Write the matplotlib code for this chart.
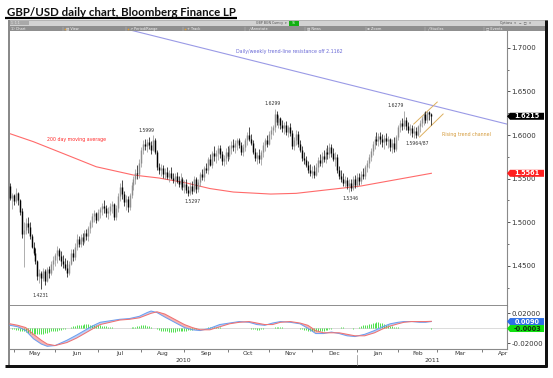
import matplotlib
matplotlib.use("Agg")
import matplotlib.pyplot as plt
import matplotlib.transforms as mtransforms
from matplotlib.patches import Polygon, Rectangle
import numpy as np
import pandas as pd

# ---- GBP/USD daily bars (first bar = 29 Apr 2010) ----
opens = [
    1.542, 1.528, 1.531, 1.524, 1.534, 1.526, 1.513, 1.486, 1.491, 1.499, 1.494, 1.484,
    1.472, 1.465, 1.455, 1.438, 1.442, 1.436, 1.444, 1.433, 1.446, 1.442, 1.452, 1.457,
    1.462, 1.468, 1.461, 1.456, 1.452, 1.448, 1.442, 1.452, 1.465, 1.460, 1.472, 1.481,
    1.475, 1.483, 1.478, 1.488, 1.484, 1.493, 1.500, 1.507, 1.510, 1.503, 1.512, 1.515,
    1.519, 1.516, 1.510, 1.513, 1.519, 1.521, 1.506, 1.516, 1.530, 1.540, 1.532, 1.523,
    1.527, 1.517, 1.531, 1.543, 1.549, 1.557, 1.555, 1.568, 1.583, 1.590, 1.587, 1.592,
    1.589, 1.583, 1.594, 1.581, 1.563, 1.560, 1.562, 1.555, 1.558, 1.552, 1.557, 1.551,
    1.548, 1.553, 1.547, 1.544, 1.550, 1.540, 1.544, 1.537, 1.534, 1.542, 1.536, 1.549,
    1.538, 1.546, 1.555, 1.552, 1.562, 1.560, 1.572, 1.566, 1.579, 1.576, 1.579, 1.585,
    1.578, 1.570, 1.574, 1.581, 1.576, 1.585, 1.589, 1.586, 1.591, 1.594, 1.588, 1.580,
    1.586, 1.594, 1.600, 1.596, 1.591, 1.580, 1.574, 1.577, 1.572, 1.580, 1.588, 1.594,
    1.590, 1.601, 1.606, 1.609, 1.624, 1.615, 1.619, 1.611, 1.608, 1.612, 1.604, 1.609,
    1.602, 1.587, 1.594, 1.601, 1.590, 1.583, 1.574, 1.571, 1.566, 1.560, 1.556, 1.559,
    1.554, 1.563, 1.571, 1.568, 1.576, 1.572, 1.581, 1.578, 1.586, 1.579, 1.573, 1.575,
    1.560, 1.553, 1.550, 1.545, 1.548, 1.541, 1.545, 1.539, 1.549, 1.543, 1.552, 1.547,
    1.555, 1.553, 1.563, 1.568, 1.575, 1.582, 1.590, 1.596, 1.593, 1.599, 1.596, 1.592,
    1.597, 1.593, 1.595, 1.586, 1.591, 1.584, 1.598, 1.609, 1.614, 1.610, 1.617, 1.610,
    1.606, 1.608, 1.602, 1.605, 1.600, 1.610, 1.614, 1.619, 1.624, 1.617, 1.626, 1.624,
]
highs = [
    1.545, 1.533, 1.532, 1.539, 1.535, 1.527, 1.516, 1.500, 1.505, 1.506, 1.500, 1.486,
    1.477, 1.470, 1.457, 1.446, 1.444, 1.447, 1.446, 1.449, 1.450, 1.455, 1.461, 1.465,
    1.473, 1.470, 1.467, 1.462, 1.459, 1.457, 1.455, 1.469, 1.469, 1.476, 1.486, 1.484,
    1.487, 1.488, 1.491, 1.492, 1.496, 1.503, 1.510, 1.514, 1.512, 1.515, 1.518, 1.522,
    1.525, 1.520, 1.518, 1.522, 1.524, 1.522, 1.520, 1.534, 1.545, 1.548, 1.536, 1.531,
    1.530, 1.534, 1.546, 1.553, 1.561, 1.566, 1.572, 1.586, 1.594, 1.596, 1.595, 1.598,
    1.593, 1.5999, 1.597, 1.583, 1.568, 1.567, 1.566, 1.562, 1.563, 1.560, 1.563, 1.556,
    1.557, 1.558, 1.553, 1.556, 1.552, 1.548, 1.549, 1.541, 1.546, 1.547, 1.553, 1.552,
    1.550, 1.558, 1.561, 1.565, 1.568, 1.575, 1.578, 1.582, 1.587, 1.583, 1.588, 1.589,
    1.582, 1.577, 1.585, 1.587, 1.589, 1.593, 1.595, 1.594, 1.597, 1.597, 1.592, 1.590,
    1.597, 1.604, 1.609, 1.601, 1.594, 1.585, 1.581, 1.584, 1.583, 1.592, 1.597, 1.600,
    1.605, 1.610, 1.612, 1.6299, 1.628, 1.623, 1.621, 1.617, 1.615, 1.616, 1.612, 1.614,
    1.606, 1.598, 1.606, 1.605, 1.594, 1.587, 1.580, 1.576, 1.570, 1.567, 1.564, 1.566,
    1.568, 1.575, 1.578, 1.580, 1.583, 1.585, 1.588, 1.591, 1.590, 1.585, 1.580, 1.578,
    1.565, 1.560, 1.556, 1.553, 1.552, 1.549, 1.550, 1.553, 1.554, 1.556, 1.557, 1.559,
    1.562, 1.566, 1.571, 1.578, 1.585, 1.593, 1.599, 1.603, 1.602, 1.604, 1.601, 1.600,
    1.602, 1.599, 1.597, 1.595, 1.598, 1.600, 1.612, 1.617, 1.620, 1.6279, 1.621, 1.615,
    1.613, 1.612, 1.610, 1.609, 1.612, 1.617, 1.622, 1.626, 1.627, 1.628, 1.627, 1.625,
]
lows = [
    1.525, 1.515, 1.520, 1.522, 1.520, 1.508, 1.482, 1.449, 1.486, 1.488, 1.481, 1.470,
    1.462, 1.452, 1.434, 1.430, 1.4231, 1.432, 1.428, 1.431, 1.436, 1.440, 1.445, 1.450,
    1.453, 1.457, 1.450, 1.448, 1.445, 1.437, 1.440, 1.451, 1.455, 1.457, 1.468, 1.471,
    1.472, 1.474, 1.476, 1.480, 1.479, 1.488, 1.494, 1.500, 1.499, 1.501, 1.505, 1.508,
    1.510, 1.506, 1.504, 1.508, 1.511, 1.503, 1.503, 1.512, 1.524, 1.527, 1.519, 1.514,
    1.512, 1.514, 1.528, 1.537, 1.544, 1.550, 1.551, 1.563, 1.578, 1.583, 1.581, 1.584,
    1.578, 1.582, 1.578, 1.560, 1.555, 1.553, 1.551, 1.549, 1.550, 1.546, 1.549, 1.545,
    1.542, 1.545, 1.540, 1.538, 1.537, 1.533, 1.534, 1.5297, 1.531, 1.532, 1.535, 1.533,
    1.535, 1.541, 1.548, 1.547, 1.556, 1.555, 1.564, 1.562, 1.570, 1.568, 1.571, 1.574,
    1.566, 1.564, 1.567, 1.570, 1.572, 1.578, 1.582, 1.579, 1.583, 1.585, 1.577, 1.576,
    1.582, 1.588, 1.593, 1.588, 1.578, 1.570, 1.567, 1.568, 1.566, 1.575, 1.582, 1.586,
    1.588, 1.596, 1.600, 1.604, 1.612, 1.608, 1.607, 1.603, 1.601, 1.600, 1.598, 1.599,
    1.584, 1.583, 1.588, 1.586, 1.580, 1.570, 1.567, 1.563, 1.556, 1.553, 1.551, 1.551,
    1.553, 1.558, 1.564, 1.563, 1.569, 1.568, 1.573, 1.574, 1.575, 1.570, 1.565, 1.557,
    1.550, 1.546, 1.542, 1.540, 1.538, 1.5346, 1.536, 1.537, 1.539, 1.540, 1.543, 1.544,
    1.549, 1.550, 1.558, 1.562, 1.570, 1.577, 1.584, 1.588, 1.587, 1.590, 1.586, 1.584,
    1.588, 1.585, 1.582, 1.579, 1.580, 1.582, 1.594, 1.603, 1.606, 1.607, 1.606, 1.602,
    1.600, 1.598, 1.597, 1.5964, 1.5987, 1.604, 1.609, 1.612, 1.614, 1.614, 1.617, 1.611,
]
closes = [
    1.528, 1.531, 1.524, 1.534, 1.526, 1.512, 1.486, 1.491, 1.499, 1.494, 1.484, 1.472,
    1.465, 1.455, 1.438, 1.442, 1.436, 1.444, 1.433, 1.446, 1.442, 1.452, 1.457, 1.462,
    1.468, 1.461, 1.456, 1.452, 1.448, 1.442, 1.452, 1.465, 1.460, 1.472, 1.481, 1.475,
    1.483, 1.478, 1.488, 1.484, 1.493, 1.500, 1.507, 1.510, 1.503, 1.512, 1.515, 1.519,
    1.516, 1.510, 1.513, 1.519, 1.521, 1.506, 1.516, 1.530, 1.540, 1.532, 1.523, 1.527,
    1.517, 1.531, 1.543, 1.549, 1.557, 1.555, 1.568, 1.583, 1.590, 1.587, 1.592, 1.589,
    1.583, 1.594, 1.581, 1.563, 1.560, 1.562, 1.555, 1.558, 1.552, 1.557, 1.551, 1.548,
    1.553, 1.547, 1.544, 1.550, 1.540, 1.544, 1.537, 1.534, 1.542, 1.536, 1.549, 1.538,
    1.546, 1.555, 1.552, 1.562, 1.560, 1.572, 1.566, 1.579, 1.576, 1.579, 1.585, 1.578,
    1.570, 1.574, 1.581, 1.576, 1.585, 1.589, 1.586, 1.591, 1.594, 1.588, 1.580, 1.586,
    1.594, 1.600, 1.596, 1.591, 1.580, 1.574, 1.577, 1.572, 1.580, 1.588, 1.594, 1.590,
    1.601, 1.606, 1.609, 1.624, 1.615, 1.619, 1.611, 1.608, 1.612, 1.604, 1.609, 1.602,
    1.587, 1.594, 1.601, 1.590, 1.583, 1.574, 1.571, 1.566, 1.560, 1.556, 1.559, 1.554,
    1.563, 1.571, 1.568, 1.576, 1.572, 1.581, 1.578, 1.586, 1.579, 1.573, 1.575, 1.560,
    1.553, 1.550, 1.545, 1.548, 1.541, 1.545, 1.539, 1.549, 1.543, 1.552, 1.547, 1.555,
    1.553, 1.563, 1.568, 1.575, 1.582, 1.590, 1.596, 1.593, 1.599, 1.596, 1.592, 1.597,
    1.593, 1.595, 1.586, 1.591, 1.584, 1.598, 1.609, 1.614, 1.610, 1.617, 1.610, 1.606,
    1.608, 1.602, 1.605, 1.600, 1.610, 1.614, 1.619, 1.624, 1.617, 1.626, 1.624, 1.6215,
]

# 200 day moving average, read at a few bars
ma_bars = [-0.5, 12, 29, 44, 63, 76, 90, 102, 114, 133, 146, 164, 179, 196, 215]
ma_vals = [1.6019, 1.5923, 1.5771, 1.5636, 1.5541, 1.5507, 1.5450, 1.5386,
           1.5346, 1.5323, 1.5331, 1.5377, 1.5415, 1.5484, 1.5561]

# long term resistance (off 2.1162) and the rising channel
trend_bars = [40, 254]
trend_vals = [1.7324, 1.6123]
chan_hi_bars = [206, 218]
chan_hi_vals = [1.6126, 1.6378]
chan_lo_bars = [209, 221]
chan_lo_vals = [1.5977, 1.6241]

# MACD panel, in thousandths
macd_bars = [0, 4, 8, 12, 16, 19, 23, 29, 34, 38, 42, 46, 51, 56, 61, 66, 70, 72, 75,
             79, 84, 89, 93, 97, 102, 107, 112, 117, 122, 126, 130, 134, 138, 143,
             148, 152, 156, 160, 164, 168, 172, 176, 181, 186, 190, 194, 198, 201,
             205, 209, 212, 215]
macd_line = [4, 2, -3, -14, -21, -24, -23, -16, -9, -3, 3, 8, 10, 12, 13, 16, 21, 23, 21,
             15, 8, 1, -2, -3, 0, 5, 7, 9, 8, 5, 4, 7, 9, 8,
             6, 0, -7, -7, -5, -7, -10, -11, -8, -3, 2, 6, 8, 9,
             9, 8, 8, 9]
signal_line = [6, 4, 1, -8, -16, -21, -23, -19, -13, -7, -1, 5, 8, 11, 12, 14, 18, 20, 22,
               19, 12, 5, 1, -2, -2, 2, 6, 8, 9, 7, 5, 5, 8, 9,
               7, 4, -3, -6, -6, -6, -8, -10, -10, -6, -1, 3, 6, 8,
               9, 9, 9, 9.3]
hist_milli = [
    0, -1, -1, -2, -2, -3, -3, -4,
    -5, -6, -6, -7, -7, -8, -8, -7, -7, -7, -6, -6, -5,
    -4, -4, -3, -3, -2, -2, -1, -1, 0, 1,
    2, 3, 3, 4, 4, 5, 5, 6, 6, 6, 5, 5, 5, 4, 4, 4, 3, 3, 3, 2,
    2, 2, 1, 1, 1, 1, 0, 0, 1, 1, 1, 2, 2,
    2, 3, 3, 4, 4, 4, 3, 3, 2, 1,
    0, -1, -2, -3, -3, -4, -4, -5, -5, -5, -5, -4, -4, -4, -3, -3, -3, -2, -2, -2, -1, -1,
    0, 0, 1, 1, 1, 2, 2, 2, 2, 2, 2, 2, 1, 1, 1, 1, 1, 1, 1, 1, 1, 0, 0, 0, 0,
    0, 0, -1, -1, -1, -2, -2, -1, -1, 0, 0, 1, 1, 1, 2,
    2, 2, 2, 2, 1, 1, 1, 1, 1, 1, 0, 0, -1, -1, -2,
    -2, -3, -3, -4, -4, -4, -4, -3, -3, -3, -2, -2, -1, -1, 0,
    1, 1, 1, 2, 2, 1, 1, 0, 0, -1,
    0, 1, 2, 3, 4, 5, 5, 6, 6, 7, 7, 8, 8, 7, 7, 6, 5, 4, 3, 3,
    2, 2, 2, 1, 1, 1, 1, 0, 0, 0, 1, 1, 1, 0, 0, 0, 0, 0, 0, -0.3,
]

# labelled turning points: bar, which end, text, label offset in px
peak_labels = [
    (73, "high", "1.5999", -7, 5),
    (16, "low", "1.4231", -1, -6),
    (91, "low", "1.5297", 4, -5),
    (135, "high", "1.6299", -2, 5),
    (173, "low", "1.5346", 1, -6),
    (201, "high", "1.6279", -8, 5),
    (207, "low", "1.5964/87", 2, -5),
]

price_ticks = [1.45, 1.50, 1.55, 1.60, 1.65, 1.70]
price_minor = [1.425, 1.475, 1.525, 1.575, 1.625, 1.675]
month_names = ["May", "Jun", "Jul", "Aug", "Sep", "Oct",
               "Nov", "Dec", "Jan", "Feb", "Mar", "Apr"]

W, H = 553, 378
fig = plt.figure(figsize=(W / 100, H / 100), dpi=100)
PT = 0.72  # points per pixel


def frac(x0, y0, x1, y1):
    # pixel box (top-left origin) -> figure fraction rect
    return [x0 / W, 1 - y1 / H, (x1 - x0) / W, (y1 - y0) / H]


# ---- frame, title and the Bloomberg toolbar (pixel coords) ----
deco = fig.add_axes([0, 0, 1, 1])
deco.set_xlim(0, W)
deco.set_ylim(H, 0)
deco.axis("off")

title = deco.text(7, 16, "GBP/USD daily chart, Bloomberg Finance LP", family="Lato",
                  weight="bold", fontsize=9, va="baseline", ha="left", color="#111111")
fig.canvas.draw()
tw = title.get_window_extent(fig.canvas.get_renderer()).width
title.set_fontsize(9 * 228 / tw)
deco.plot([5, 237], [18, 18], color="black", lw=2.2 * PT, solid_capstyle="butt")

deco.add_patch(Rectangle((8, 20), 539, 6, facecolor="#d2d2d2", edgecolor="#8c8c8c", lw=0.4))
deco.add_patch(Rectangle((9, 20.6), 20, 4.8, facecolor="#a9a9a9", lw=0))
deco.add_patch(Rectangle((8, 26), 539, 5.2, facecolor="#8f8f8f", lw=0))
deco.text(11, 23.2, "1  1 1", fontsize=2.2, color="#f0f0f0", va="center")
deco.text(287, 23.2, "GBP BGN Curncy  \u25be", fontsize=2.3, color="#505050", va="center", ha="right")
deco.add_patch(Rectangle((289, 20.5), 10, 5, facecolor="#12b012", lw=0))
deco.text(294, 23.1, "96", fontsize=2.2, color="white", va="center", ha="center")
deco.text(500, 23.2, "Options  \u25be   \u2212  \u25a1  \u00d7", fontsize=2.3,
          color="#505050", va="center")
menu = [(11, "1) Chart"), (66, "\u25a4 View"), (130, "\u2197 Period/Range"),
        (187, "+ Track"), (248, "\u2571 Annotate"), (307, "\u25a4 News"),
        (367, "\u2295 Zoom"), (427, "\u2571 Studies"), (486, "\u25a1 Events")]
for mx, name in menu:
    deco.text(mx, 28.7, name, fontsize=2.5, color="#f4f4f4", va="center")
for sx in [63, 126, 183, 245, 305, 366, 425, 484]:
    deco.plot([sx, sx], [26.6, 30.6], color="#c4c4c4", lw=0.3)
for ox in [64.5, 127.5, 184.5]:
    deco.plot([ox], [28.6], marker="s", ms=1.0, color="#f0a020", mew=0)

deco.plot([8.5, 8.5], [20, 366], color="#8a8a8a", lw=2 * PT, solid_capstyle="butt")
deco.plot([545.5, 545.5], [20, 367], color="#111111", lw=3 * PT, solid_capstyle="butt")
deco.plot([5, 547], [365.5, 365.5], color="#111111", lw=3 * PT, solid_capstyle="butt")

# ---- price panel ----
ax = fig.add_axes(frac(9, 31, 507, 305.5))
x = np.arange(len(closes))
o, h, l, c = (np.array(v) for v in (opens, highs, lows, closes))
colors = np.where(c >= o, "#8e8e8e", "#000000")
ax.vlines(x, l, h, colors=colors, lw=0.5, zorder=3)
lo_b = np.minimum(o, c)
hi_b = np.maximum(np.maximum(o, c), lo_b + 0.0007)
ax.vlines(x, lo_b, hi_b, colors=colors, lw=1.05, zorder=3)

ax.plot(ma_bars, ma_vals, color="#ff6a6a", lw=0.8, zorder=2)
ax.plot(trend_bars, trend_vals, color="#9a9ae6", lw=0.8, zorder=2)
ax.plot(chan_hi_bars, chan_hi_vals, color="#ddb060", lw=0.7, zorder=2)
ax.plot(chan_lo_bars, chan_lo_vals, color="#ddb060", lw=0.7, zorder=2)

for bar, end, text, dx, dy in peak_labels:
    val = highs[bar] if end == "high" else lows[bar]
    ax.annotate(text, xy=(bar, val), xytext=(dx * PT, dy * PT), textcoords="offset points",
                ha="center", va="center", fontsize=3.3, color="#333333", zorder=4)

ax.text(34, 1.5943, "200 day moving average", fontsize=3.4, color="#ff2a2a",
        ha="center", va="center")
ax.text(115.3, 1.6958, "Daily/weekly trend-line resistance off 2.1162", fontsize=3.4,
        color="#6a6ad6", ha="left", va="center")
ax.text(220.4, 1.6011, "Rising trend channel", fontsize=3.4, color="#d49a3a",
        ha="left", va="center")

ax.set_xlim(-0.51, 253.6)
ax.set_ylim(1.40447, 1.7193)
ax.set_xticks([])
ax.yaxis.tick_right()
ax.set_yticks(price_ticks)
ax.set_yticklabels([f"{v:.4f}" for v in price_ticks])
ax.set_yticks(price_minor, minor=True)
ax.tick_params(axis="y", which="both", direction="out", color="#555555",
               labelcolor="#333333", labelsize=5, pad=0.8)
ax.tick_params(axis="y", which="major", length=2.4, width=0.7)
ax.tick_params(axis="y", which="minor", length=1.5, width=0.6)
ax.spines["top"].set_visible(False)
ax.spines["left"].set_color("#8a8a8a")
ax.spines["left"].set_linewidth(2 * PT)
ax.spines["right"].set_color("#8a8a8a")
ax.spines["right"].set_linewidth(0.8)
ax.spines["bottom"].set_color("#7a7a7a")
ax.spines["bottom"].set_linewidth(1.2)


def side_tag(axis, value, text, face, fg, px_h=7.0):
    # flag on the right axis, pointed towards the axis line
    trans = mtransforms.blended_transform_factory(axis.transAxes, axis.transData)
    y0, y1 = axis.get_ylim()
    bbox = axis.get_window_extent()
    half = px_h / 2 * (y1 - y0) / bbox.height
    ux = 1.0 / bbox.width
    pts = [(1.0, value), (1 + 3 * ux, value + half), (1 + 37 * ux, value + half),
           (1 + 37 * ux, value - half), (1 + 3 * ux, value - half)]
    axis.add_patch(Polygon(pts, closed=True, transform=trans, facecolor=face,
                           edgecolor="none", clip_on=False, zorder=6))
    axis.text(1 + 20 * ux, value, text, transform=trans, ha="center", va="center",
              fontsize=4.7, color=fg, weight="bold", clip_on=False, zorder=7)


side_tag(ax, closes[-1], f"{closes[-1]:.4f}", "#000000", "white")
side_tag(ax, ma_vals[-1], f"{ma_vals[-1]:.4f}", "#ff1e1e", "white")

# ---- MACD panel ----
ax2 = fig.add_axes(frac(9, 305.5, 507, 349.3))
mb = np.array(macd_bars)
mv = np.array(macd_line) / 1000
sv = np.array(signal_line) / 1000
hv = np.array(hist_milli) / 1000
ax2.axhline(0, color="#d6d6d6", lw=0.6, zorder=0)
ax2.fill_between(mb, mv, sv, where=mv >= sv, interpolate=True, color="#bdd2f6", lw=0, zorder=1)
ax2.fill_between(mb, mv, sv, where=mv < sv, interpolate=True, color="#f6b4b4", lw=0, zorder=1)
ax2.vlines(np.arange(len(hv)), 0, hv, colors="#2fdc2f", lw=0.6, zorder=2)
ax2.plot(mb, mv, color="#6e9ff0", lw=0.75, zorder=3)
ax2.plot(mb, sv, color="#f07272", lw=0.75, zorder=3)

ax2.set_xlim(-0.51, 253.6)
ax2.set_ylim(-0.028, 0.0304)
ax2.yaxis.tick_right()
ax2.set_yticks([-0.02, 0.02])
ax2.set_yticklabels(["-0.02000", "0.02000"])
ax2.tick_params(axis="y", direction="out", color="#555555", labelcolor="#333333",
                labelsize=5, pad=0.8, length=2.4, width=0.7)

days = pd.bdate_range("2010-04-29", "2011-05-31")
starts = [i for i in range(1, len(days)) if days[i].month != days[i - 1].month]
ticks = starts[:12]
mids = [(starts[k] + starts[k + 1]) / 2 for k in range(12)]
ax2.set_xticks(ticks)
ax2.set_xticklabels([""] * len(ticks))
ax2.set_xticks(mids, minor=True)
ax2.set_xticklabels(month_names, minor=True)
ax2.tick_params(axis="x", which="major", direction="out", length=2.4, width=0.6,
                color="#666666")
ax2.tick_params(axis="x", which="minor", length=0, labelsize=4.3, labelcolor="#333333",
                pad=1.2)
ax2.spines["top"].set_visible(False)
ax2.spines["left"].set_color("#8a8a8a")
ax2.spines["left"].set_linewidth(2 * PT)
ax2.spines["right"].set_color("#8a8a8a")
ax2.spines["right"].set_linewidth(0.8)
ax2.spines["bottom"].set_color("#8a8a8a")
ax2.spines["bottom"].set_linewidth(0.8)

jan = ticks[8]
yt = mtransforms.blended_transform_factory(ax2.transData, ax2.transAxes)
ax2.text((-0.51 + jan) / 2, -0.245, "2010", transform=yt, ha="center", va="center",
         fontsize=4.5, color="#333333")
ax2.text((jan + 253.6) / 2, -0.245, "2011", transform=yt, ha="center", va="center",
         fontsize=4.5, color="#333333")
ax2.plot([jan, jan], [-0.13, -0.36], transform=yt, color="#888888", lw=0.5, clip_on=False)

side_tag(ax2, mv[-1], f"{mv[-1]:.4f}", "#2d6fe6", "white")
side_tag(ax2, hv[-1], f"{hv[-1]:.4f}", "#10e010", "#103010")

fig.savefig("out.png", dpi=100)
